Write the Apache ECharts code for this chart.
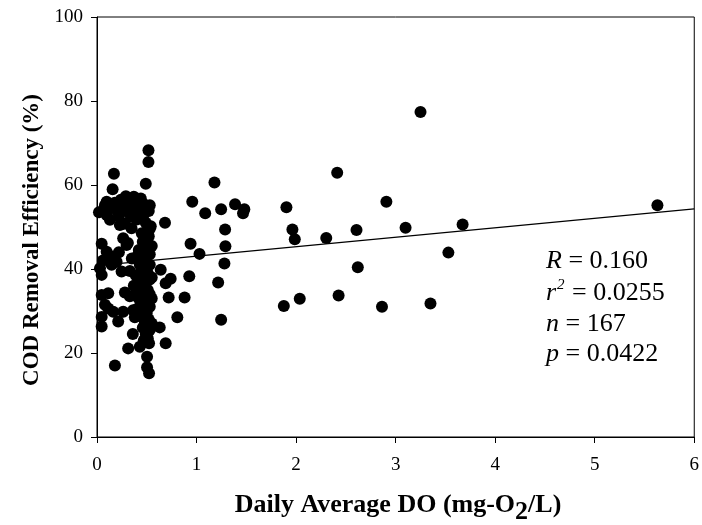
<!DOCTYPE html>
<html>
<head>
<meta charset="utf-8">
<script src="https://cdn.jsdelivr.net/npm/echarts@6/dist/echarts.min.js"></script>
<style>
  html, body { margin: 0; padding: 0; background: #fff; }
  #chart { width: 702px; height: 525px; }
</style>
</head>
<body>
<div id="chart"></div>
<script>
// ── Data ───────────────────────────────────────────────
// Daily average DO (mg-O2/L) and COD removal efficiency (%)
const doValues = [
  0.64, 0.74, 0.69, 0.927, 1.217, 0.72, 0.88, 1.877, 2.037, 0.807,
  1.247, 0.63, 0.69, 1.18, 0.957, 1.087, 1.247, 1.387, 1.48, 1.467,
  1.903, 1.963, 1.987, 0.683, 1.287, 0.94, 1.29, 1.03, 1.28, 2.413,
  2.907, 2.303, 2.607, 3.10, 3.673, 3.53, 2.62, 2.427, 2.863, 3.35,
  3.25, 5.63,
  0.517, 0.517, 0.17, 0.49, 0.157, 0.29, 0.097, 0.063, 0.33, 0.36,
  0.46, 0.53, 0.13, 0.23, 0.347, 0.047, 0.263, 0.297, 0.50, 0.51,
  0.097, 0.31, 0.41, 0.51, 0.03, 0.047, 0.147, 0.247, 0.197, 0.43,
  0.51, 0.047, 0.113, 0.28, 0.43, 0.46, 0.51, 0.113, 0.163, 0.047,
  0.213, 0.263, 0.363, 0.047, 0.313, 0.43, 0.523, 0.503, 0.18, 0.503,
  0.523,
  0.02, 0.08, 0.12, 0.18, 0.2, 0.24, 0.27, 0.3, 0.34, 0.38,
  0.4, 0.42, 0.44, 0.47, 0.49, 0.52, 0.54, 0.5, 0.37, 0.22,
  0.1, 0.28,
  0.45, 0.53, 0.47, 0.53, 0.48, 0.45, 0.53, 0.48, 0.44, 0.53,
  0.47, 0.5, 0.45, 0.53, 0.48, 0.5, 0.44, 0.53, 0.47, 0.5,
  0.45, 0.52, 0.48, 0.5, 0.46, 0.53, 0.49, 0.51, 0.47, 0.55,
  0.55, 0.55, 0.42, 0.4, 0.38, 0.41, 0.39, 0.42, 0.46, 0.55,
  0.06, 0.15, 0.22, 0.35, 0.33, 0.52, 0.37, 0.49, 0.33, 0.08,
  0.46, 0.36
];
const codValues = [
  39.8, 37.7, 36.6, 38.3, 36.8, 33.2, 33.2, 31.2, 32.9, 28.5,
  27.9, 26.1, 22.3, 60.6, 56.0, 53.3, 54.2, 55.4, 54.2, 53.3,
  54.7, 49.4, 47.1, 51.0, 49.4, 46.0, 45.4, 43.6, 41.3, 62.9,
  56.0, 47.4, 49.3, 49.8, 50.6, 43.9, 40.4, 33.7, 31.0, 31.8,
  77.4, 55.2,
  68.3, 65.5, 62.7, 60.3, 59.0, 57.3, 56.0, 54.0, 56.5, 55.8,
  55.6, 55.2, 51.7, 50.5, 49.7, 46.0, 47.3, 45.7, 47.2, 46.0,
  44.1, 46.2, 43.3, 45.0, 40.2, 38.6, 41.0, 39.4, 41.7, 41.0,
  39.0, 33.8, 34.2, 34.4, 36.6, 33.4, 35.0, 30.6, 29.8, 28.6,
  27.5, 29.8, 30.2, 26.3, 21.1, 21.5, 22.3, 19.1, 17.0, 16.6,
  15.2,
  53.5, 55.2, 54.6, 55.8, 54.0, 56.5, 55.0, 53.8, 52.5, 54.6,
  51.8, 53.5, 56.8, 53.0, 51.0, 53.8, 50.2, 49.0, 57.2, 52.5,
  52.8, 50.8,
  48.5, 49.5, 44.0, 43.5, 42.0, 40.0, 41.0, 38.5, 38.0, 37.5,
  36.0, 37.0, 35.5, 34.0, 33.0, 32.0, 31.5, 31.0, 30.5, 29.5,
  29.0, 28.0, 27.5, 26.5, 26.0, 25.5, 24.5, 23.5, 23.0, 27.0,
  33.0, 38.0, 33.0, 30.5, 28.5, 35.0, 38.5, 44.5, 46.5, 45.5,
  42.0, 43.0, 44.0, 42.5, 39.5, 47.8, 36.0, 40.5, 33.5, 31.5,
  28.5, 24.5
];

// Linear fit drawn across the x range
const fitX = [0, 6];
const fitIntercept = 40.8;
const fitSlope = 2.25;

const statLines = [
  ['R', ' = 0.160'],
  ['r', '2', ' = 0.0255'],
  ['n', ' = 167'],
  ['p', ' = 0.0422']
];

// ── Chart ──────────────────────────────────────────────
const chart = echarts.init(document.getElementById('chart'));
const FONT = "'Liberation Serif', 'Times New Roman', serif";

const points = doValues.map((x, i) => [x, codValues[i]]);
const fitLine = fitX.map(x => [x, fitIntercept + fitSlope * x]);

const statMiddles = [261, 293, 324, 354];
const statGraphics = statLines.map((parts, i) => {
  const txt = parts.length === 3
    ? '{it|' + parts[0] + '}{sup|' + parts[1] + '}{n|' + parts[2] + '}'
    : '{it|' + parts[0] + '}{n|' + parts[1] + '}';
  return {
    type: 'text',
    x: 546,
    y: statMiddles[i],
    style: {
      text: txt,
      align: 'left',
      verticalAlign: 'middle',
      rich: {
        it:  { fontFamily: FONT, fontSize: 26, fontStyle: 'italic', fill: '#000' },
        n:   { fontFamily: FONT, fontSize: 26, fill: '#000' },
        sup: { fontFamily: FONT, fontSize: 15, fontStyle: 'italic', fill: '#000', padding: [0, 1, 16, 1] }
      }
    }
  };
});

chart.setOption({
  animation: false,
  backgroundColor: '#fff',
  grid: {
    left: 97, top: 17, right: 5, bottom: 88,
    show: true, borderColor: '#000', borderWidth: 1
  },
  xAxis: {
    type: 'value',
    min: 0, max: 6, interval: 1,
    axisLine: { lineStyle: { color: '#000', width: 1 } },
    axisTick: { length: 6, lineStyle: { color: '#000' } },
    axisLabel: { color: '#000', fontFamily: FONT, fontSize: 19, margin: 19 },
    splitLine: { show: false }
  },
  yAxis: {
    type: 'value',
    min: 0, max: 100, interval: 20,
    axisLine: { show: true, lineStyle: { color: '#000', width: 1 } },
    axisTick: { show: true, length: 6, lineStyle: { color: '#000' } },
    axisLabel: { color: '#000', fontFamily: FONT, fontSize: 19, margin: 14 },
    splitLine: { show: false }
  },
  graphic: [
    {
      type: 'text',
      x: 32, y: 240,
      rotation: Math.PI / 2,
      style: {
        text: 'COD Removal Efficiency (%)',
        fontFamily: FONT, fontSize: 23, fontWeight: 'bold', fill: '#000',
        align: 'center', verticalAlign: 'middle'
      }
    },
    {
      type: 'text',
      x: 398, y: 505,
      style: {
        text: '{b|Daily Average DO (mg-O}{s|2}{b|/L)}',
        align: 'center', verticalAlign: 'middle',
        rich: {
          b: { fontFamily: FONT, fontSize: 26, fontWeight: 'bold', fill: '#000' },
          s: { fontFamily: FONT, fontSize: 26, fontWeight: 'bold', fill: '#000', padding: [14, 0, 0, 0] }
        }
      }
    }
  ].concat(statGraphics),
  series: [
    {
      type: 'scatter',
      data: points,
      symbol: 'circle',
      symbolSize: 12,
      itemStyle: { color: '#000', opacity: 1 },
      z: 3
    },
    {
      type: 'line',
      data: fitLine,
      symbol: 'none',
      lineStyle: { color: '#000', width: 1.2 },
      z: 2
    }
  ]
});
</script>
</body>
</html>
